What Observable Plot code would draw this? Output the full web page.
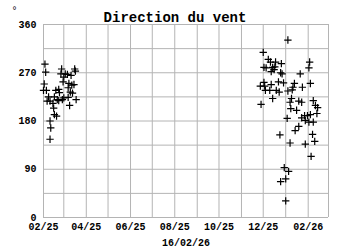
<!DOCTYPE html>
<html><head><meta charset="utf-8">
<script src="https://cdn.jsdelivr.net/npm/d3@7"></script>
<script src="https://cdn.jsdelivr.net/npm/@observablehq/plot@0.6"></script>
<style>body{margin:0;background:#fff} svg{display:block}</style>
</head><body><div id="chart"></div>
<script>
const title = "Direction du vent";
const caption = "16/02/26";
const yLabel = "°";
const dates = [
  "2025-02-03","2025-02-04","2025-02-02","2025-02-01","2025-02-05","2025-02-08","2025-02-06","2025-02-10",
  "2025-02-14","2025-02-15","2025-02-16","2025-02-19","2025-02-10","2025-02-11","2025-02-10","2025-02-18",
  "2025-02-22","2025-02-23","2025-02-20","2025-02-27","2025-03-01","2025-02-26","2025-02-25","2025-03-01",
  "2025-02-28","2025-03-03","2025-03-06","2025-03-11","2025-03-08","2025-03-07","2025-03-12","2025-03-15",
  "2025-03-10","2025-03-13","2025-03-07","2025-03-18","2025-03-09","2025-03-16","2025-03-17","2025-02-16",
  "2025-02-22",
  "2026-01-04","2025-12-01","2025-12-08","2025-12-11","2025-12-18","2025-12-26","2025-12-02","2025-12-05",
  "2025-12-14","2025-12-16","2025-12-17","2025-12-12","2025-12-25","2025-12-27","2026-02-03","2026-02-02",
  "2026-01-21","2025-12-02","2025-11-27","2025-12-03","2025-12-12","2025-12-22","2025-12-29","2026-01-13",
  "2026-02-04","2026-01-24","2025-12-04","2025-12-10","2025-12-19","2025-12-23","2026-01-04","2026-01-10",
  "2026-01-11","2025-12-14","2025-11-28","2026-01-09","2026-01-07","2026-01-19","2026-01-23","2026-02-08",
  "2026-02-11","2026-02-14","2026-01-08","2026-01-16","2026-02-13","2026-01-27","2026-01-31","2026-02-04",
  "2026-01-23","2026-01-03","2026-01-28","2026-02-02","2026-02-08","2026-01-19","2026-01-14","2025-12-24",
  "2026-02-07","2026-01-07","2026-01-28","2026-02-10","2026-02-05","2025-12-30","2026-01-05","2026-01-01",
  "2025-12-25","2026-01-01"
];
const directions = [
  286,271,249,237,237,225,217,217,
  213,204,192,189,180,167,146,237,
  239,233,220,220,223,277,268,262,
  253,268,267,265,250,242,247,248,
  234,232,224,220,209,277,273,225,
  218,
  331,308,295,290,290,287,280,279,
  280,276,281,272,270,268,290,279,
  268,252,245,245,248,253,251,250,
  250,243,237,237,237,234,236,238,
  243,222,211,222,215,217,215,218,
  209,205,203,200,194,190,190,192,
  186,185,181,178,178,170,162,154,
  155,139,137,142,114,93,86,72,
  67,31
];
const xTickDates = ["2025-02-01","2025-04-01","2025-06-01","2025-08-01","2025-10-01","2025-12-01","2026-02-01"];
const yTicks = [0, 90, 180, 270, 360];
const yGrid = [0, 45, 90, 135, 180, 225, 270, 315, 360];
const xStart = "2025-02-01", xEnd = "2026-03-01";

const data = dates.map((d, i) => ({date: new Date(d), dir: directions[i]}));
const monthGrid = d3.utcMonth.range(new Date(xStart), d3.utcDay.offset(new Date(xEnd), 1));
const fmt = d3.utcFormat("%m/%y");
const gridColor = "#b4b4b4";

const chart = Plot.plot({
  width: 350,
  height: 250,
  marginTop: 24,
  marginLeft: 43,
  marginRight: 22,
  marginBottom: 33,
  style: {fontFamily: "'Liberation Mono', 'DejaVu Sans Mono', monospace", fontSize: "10px", fontWeight: "bold", color: "black", background: "white"},
  x: {type: "utc", domain: [new Date(xStart), new Date(xEnd)]},
  y: {domain: [0, 360]},
  marks: [
    Plot.ruleX(monthGrid, {stroke: gridColor, strokeWidth: 1}),
    Plot.ruleY(yGrid, {stroke: gridColor, strokeWidth: 1}),
    Plot.axisX(xTickDates.map(d => new Date(d)), {tickSize: 0, tickPadding: 5, tickFormat: fmt, label: null, fontWeight: "bold"}),
    Plot.axisY(yTicks, {tickSize: 0, tickPadding: 7, label: null, fontWeight: "bold"}),
    Plot.dot(data, {x: "date", y: "dir", symbol: "plus", r: 2.5, stroke: "black", strokeWidth: 1.2}),
    Plot.text([title], {frameAnchor: "top", dx: -11, dy: -12, fontSize: 14, fontWeight: "bold"}),
    Plot.text([caption], {frameAnchor: "bottom", dy: 28, fontSize: 10, fontWeight: "bold"}),
    Plot.text([yLabel], {frameAnchor: "top-left", dx: -32, dy: -18, fontSize: 10, fontWeight: "normal"})
  ]
});
document.getElementById("chart").appendChild(chart);
</script>
</body></html>
